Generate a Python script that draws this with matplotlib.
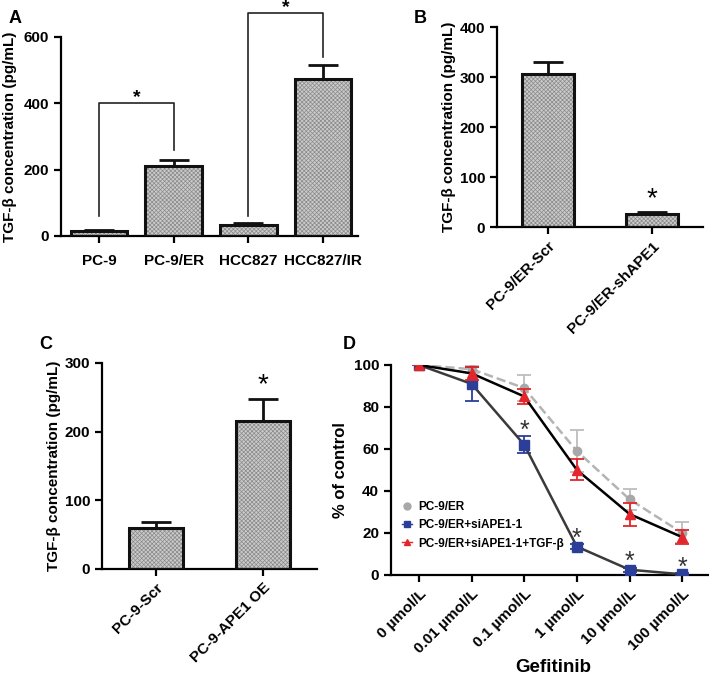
import numpy as np
import matplotlib
matplotlib.use('agg')
import matplotlib.pyplot as plt
from matplotlib.lines import Line2D

plt.rcParams['font.family'] = ['Liberation Sans', 'DejaVu Sans']
plt.rcParams['font.weight'] = 'bold'
plt.rcParams['axes.linewidth'] = 1.6
plt.rcParams['hatch.linewidth'] = 0.5

# panel A
a_labels = ["PC-9", "PC-9/ER", "HCC827", "HCC827/IR"]
a_mean = [14, 212, 33, 473]
a_err = [3, 18, 5, 42]

# panel B
b_labels = ["PC-9/ER-Scr", "PC-9/ER-shAPE1"]
b_mean = [307, 27]
b_err = [24, 3]

# panel C
c_labels = ["PC-9-Scr", "PC-9-APE1 OE"]
c_mean = [60, 216]
c_err = [8, 31]

# panel D
d_doses = ["0 µmol/L", "0.01 µmol/L", "0.1 µmol/L", "1 µmol/L", "10 µmol/L", "100 µmol/L"]
d_er = [100, 98, 89, 59, 36, 20]
d_er_err = [0, 2, 6, 10, 5, 5]
d_si = [100, 91, 62, 13.5, 2.5, 0.3]
d_si_err = [0, 8, 4, 1, 1, 0.5]
d_tgf = [100, 96, 85, 50, 29, 18]
d_tgf_err = [0, 3, 3.5, 5, 5.5, 3.5]
d_star = [False, False, True, True, True, True]

fig = plt.figure(figsize=(7.09, 6.78), dpi=100)


def bars(ax, vals, errs, width):
    x = np.arange(len(vals))
    ax.bar(x, vals, width, color='#cbcbcb', edgecolor='#8a8a8a', hatch='xxxxxxxx', linewidth=0, zorder=2)
    ax.bar(x, vals, width, fill=False, edgecolor='#111111', linewidth=2.2, zorder=3)
    ax.errorbar(x, vals, yerr=[np.zeros(len(vals)), errs], fmt='none', ecolor='#111111',
                elinewidth=2, capsize=11, capthick=2, zorder=1)
    return x


def style(ax, size=11):
    for s in ['top', 'right']:
        ax.spines[s].set_visible(False)
    ax.tick_params(axis='both', direction='out', length=5, width=1.6, labelsize=size)
    for t in ax.get_yticklabels() + ax.get_xticklabels():
        t.set_fontweight('bold')


ylab = "TGF-β concentration (pg/mL)"

# A
axA = fig.add_axes([0.086, 0.652, 0.419, 0.2935])
x = bars(axA, a_mean, a_err, 0.76)
axA.set_xlim(-0.51, 3.47)
axA.set_ylim(0, 600)
axA.set_yticks([0, 200, 400, 600])
axA.set_xticks(x)
axA.set_xticklabels(a_labels)
axA.set_ylabel(ylab, fontsize=11, fontweight='bold', labelpad=5)
style(axA)
axA.tick_params(axis='x', pad=8)
axA.plot([0, 0, 1, 1], [60, 400, 400, 260], color='#222', lw=1.2, clip_on=False)
axA.text(0.5, 418, "*", ha='center', va='center', fontsize=14)
axA.plot([2, 2, 3, 3], [60, 672, 672, 540], color='#222', lw=1.2, clip_on=False)
axA.text(2.5, 690, "*", ha='center', va='center', fontsize=14)

# B
axB = fig.add_axes([0.701, 0.665, 0.2906, 0.295])
x = bars(axB, b_mean, b_err, 0.5)
axB.set_xlim(-0.49, 1.49)
axB.set_ylim(0, 400)
axB.set_yticks([0, 100, 200, 300, 400])
axB.set_xticks(x)
axB.set_xticklabels(b_labels, rotation=45, ha='right', rotation_mode='anchor')
axB.set_ylabel(ylab, fontsize=11, fontweight='bold', labelpad=3)
style(axB)
axB.text(1, 55, "*", ha='center', va='center', fontsize=20, fontweight='normal')

# C
axC = fig.add_axes([0.144, 0.161, 0.3032, 0.3038])
x = bars(axC, c_mean, c_err, 0.5)
axC.set_xlim(-0.5, 1.5)
axC.set_ylim(0, 300)
axC.set_yticks([0, 100, 200, 300])
axC.set_xticks(x)
axC.set_xticklabels(c_labels, rotation=45, ha='right', rotation_mode='anchor')
axC.set_ylabel(ylab, fontsize=11, fontweight='bold', labelpad=3)
style(axC)
axC.text(1, 268, "*", ha='center', va='center', fontsize=20, fontweight='normal')

# D
axD = fig.add_axes([0.5515, 0.152, 0.4471, 0.3097])
xd = np.arange(len(d_doses))
c_er, c_si, c_tgf = '#a8a8a8', '#2b3f98', '#e3262b'
axD.errorbar(xd, d_er, yerr=d_er_err, color='#b4b4b4', ls='--', lw=1.8, marker='o', ms=6,
             mfc=c_er, mec=c_er, ecolor='#bdbdbd', elinewidth=1.3, capsize=5,
             capthick=1.3, zorder=2)
axD.errorbar(xd, d_si, yerr=d_si_err, color='#3a3a3a', ls='-', lw=1.8, marker='s', ms=6.5,
             mfc=c_si, mec=c_si, ecolor=c_si, elinewidth=1.3, capsize=5,
             capthick=1.3, zorder=3)
axD.errorbar(xd, d_tgf, yerr=d_tgf_err, color='#000000', ls='-', lw=1.8, marker='^', ms=6.5,
             mfc=c_tgf, mec=c_tgf, ecolor=c_tgf, elinewidth=1.3, capsize=5,
             capthick=1.3, zorder=4)
for i in xd:
    if d_star[i]:
        axD.text(i, d_si[i] + d_si_err[i] + 2.5, "*", ha='center', va='center', fontsize=18,
                 color='#333333', fontweight='normal')
axD.set_xlim(-0.53, 5.49)
axD.set_ylim(0, 100)
axD.set_yticks([0, 20, 40, 60, 80, 100])
axD.set_xticks(xd)
axD.set_xticklabels(d_doses, rotation=45, ha='right', rotation_mode='anchor')
axD.set_ylabel("% of control", fontsize=12, fontweight='bold', labelpad=4)
style(axD, 11)
fig.text(0.78, 0.016, "Gefitinib", fontsize=13.5, fontweight='bold', ha='center', va='center')
handles = [
    Line2D([], [], color=c_er, marker='o', ls='none', ms=5),
    Line2D([], [], color=c_si, marker='s', ls='-', lw=1, ms=5),
    Line2D([], [], color=c_tgf, marker='^', ls='-', lw=1, ms=5),
]
leg = axD.legend(handles, ['PC-9/ER', 'PC-9/ER+siAPE1-1', 'PC-9/ER+siAPE1-1+TGF-β'],
                 loc='lower left', bbox_to_anchor=(0.0, 0.07), frameon=False, fontsize=8.5,
                 handlelength=0.9, handletextpad=0.5, labelspacing=0.55)
for t in leg.get_texts():
    t.set_fontweight('bold')

fig.text(0.012, 0.985, "A", fontsize=13, fontweight='bold', va='top')
fig.text(0.583, 0.985, "B", fontsize=13, fontweight='bold', va='top')
fig.text(0.055, 0.505, "C", fontsize=13, fontweight='bold', va='top')
fig.text(0.483, 0.505, "D", fontsize=13, fontweight='bold', va='top')

fig.savefig("out.png", dpi=100)
